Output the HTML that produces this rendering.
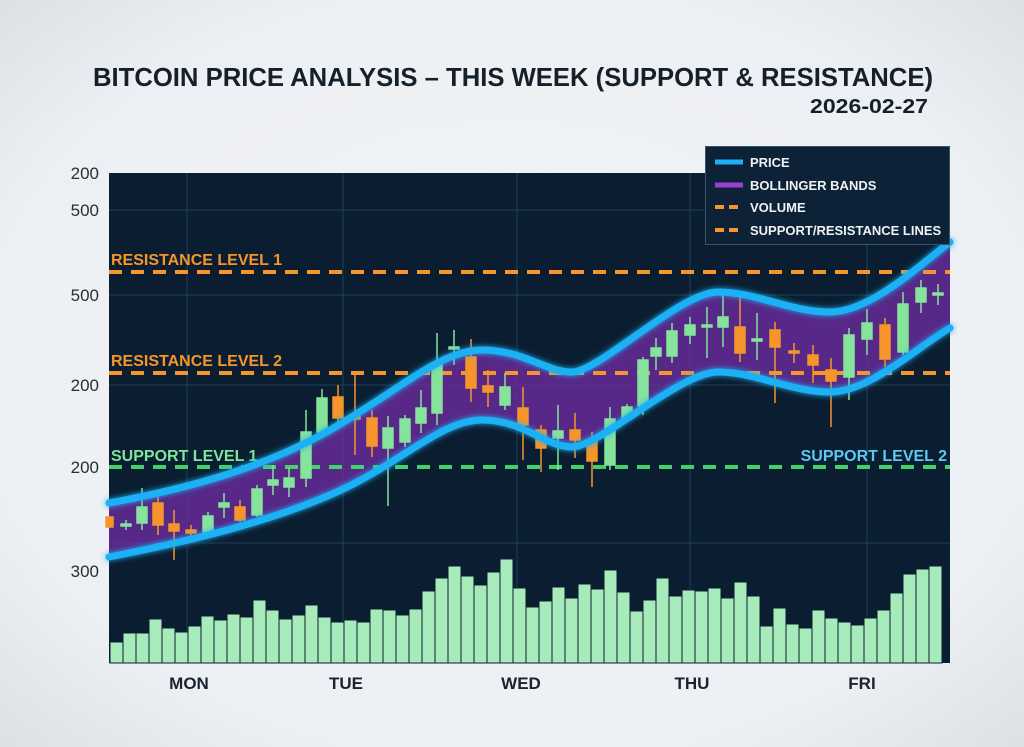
<!DOCTYPE html>
<html><head><meta charset="utf-8"><style>
html,body{margin:0;padding:0;background:#eef1f4;}
svg{display:block;}
text{font-family:"Liberation Sans",sans-serif;}
</style></head><body>
<svg width="1024" height="747" viewBox="0 0 1024 747" xmlns="http://www.w3.org/2000/svg">
<defs>
<radialGradient id="bg" cx="50%" cy="50%" r="75%">
<stop offset="0" stop-color="#f3f5f8"/><stop offset="0.7" stop-color="#eceff3"/><stop offset="1" stop-color="#d9dde2"/>
</radialGradient>
<filter id="glow" x="-10%" y="-20%" width="120%" height="140%"><feGaussianBlur stdDeviation="3" result="b"/><feMerge><feMergeNode in="b"/><feMergeNode in="SourceGraphic"/></feMerge></filter>
</defs>
<rect width="1024" height="747" fill="url(#bg)"/>
<text x="93" y="86" font-size="26" font-weight="bold" fill="#15202b" textLength="840" lengthAdjust="spacingAndGlyphs">BITCOIN PRICE ANALYSIS – THIS WEEK (SUPPORT &amp; RESISTANCE)</text>
<text x="810" y="113" font-size="20" font-weight="bold" fill="#15202b" textLength="118" lengthAdjust="spacingAndGlyphs">2026-02-27</text>

<rect x="109" y="173" width="841" height="490" fill="#0b1e31"/>
<g stroke="#1f3f55" stroke-width="1">
<line x1="187" y1="173" x2="187" y2="663"/><line x1="343" y1="173" x2="343" y2="663"/><line x1="517" y1="173" x2="517" y2="663"/><line x1="690" y1="173" x2="690" y2="663"/><line x1="867" y1="173" x2="867" y2="663"/>
<line x1="109" y1="210" x2="950" y2="210"/><line x1="109" y1="295" x2="950" y2="295"/><line x1="109" y1="385" x2="950" y2="385"/><line x1="109" y1="543" x2="950" y2="543"/>
</g>

<g font-size="17" fill="#2a2f36" text-anchor="end">
<text x="99" y="179">200</text><text x="99" y="216">500</text><text x="99" y="301">500</text><text x="99" y="391">200</text><text x="99" y="473">200</text><text x="99" y="577">300</text>
</g>

<!-- volume -->
<g fill="#a8ebba" stroke="#0b1e31" stroke-width="1">
<rect x="110" y="642" width="13" height="21"/><rect x="123" y="633" width="13" height="30"/><rect x="136" y="633" width="13" height="30"/><rect x="149" y="619" width="13" height="44"/><rect x="162" y="628" width="13" height="35"/><rect x="175" y="632" width="13" height="31"/><rect x="188" y="626" width="13" height="37"/><rect x="201" y="616" width="13" height="47"/><rect x="214" y="620" width="13" height="43"/><rect x="227" y="614" width="13" height="49"/><rect x="240" y="617" width="13" height="46"/><rect x="253" y="600" width="13" height="63"/><rect x="266" y="610" width="13" height="53"/><rect x="279" y="619" width="13" height="44"/><rect x="292" y="615" width="13" height="48"/><rect x="305" y="605" width="13" height="58"/><rect x="318" y="617" width="13" height="46"/><rect x="331" y="622" width="13" height="41"/><rect x="344" y="620" width="13" height="43"/><rect x="357" y="622" width="13" height="41"/><rect x="370" y="609" width="13" height="54"/><rect x="383" y="610" width="13" height="53"/><rect x="396" y="615" width="13" height="48"/><rect x="409" y="609" width="13" height="54"/><rect x="422" y="591" width="13" height="72"/><rect x="435" y="578" width="13" height="85"/><rect x="448" y="566" width="13" height="97"/><rect x="461" y="576" width="13" height="87"/><rect x="474" y="585" width="13" height="78"/><rect x="487" y="572" width="13" height="91"/><rect x="500" y="559" width="13" height="104"/><rect x="513" y="588" width="13" height="75"/>
<rect x="526" y="607" width="13" height="56"/><rect x="539" y="601" width="13" height="62"/><rect x="552" y="587" width="13" height="76"/><rect x="565" y="598" width="13" height="65"/><rect x="578" y="584" width="13" height="79"/><rect x="591" y="589" width="13" height="74"/><rect x="604" y="570" width="13" height="93"/><rect x="617" y="592" width="13" height="71"/><rect x="630" y="611" width="13" height="52"/><rect x="643" y="600" width="13" height="63"/><rect x="656" y="578" width="13" height="85"/><rect x="669" y="596" width="13" height="67"/><rect x="682" y="590" width="13" height="73"/><rect x="695" y="591" width="13" height="72"/><rect x="708" y="588" width="13" height="75"/><rect x="721" y="598" width="13" height="65"/><rect x="734" y="582" width="13" height="81"/><rect x="747" y="596" width="13" height="67"/><rect x="760" y="626" width="13" height="37"/><rect x="773" y="608" width="13" height="55"/><rect x="786" y="624" width="13" height="39"/><rect x="799" y="628" width="13" height="35"/><rect x="812" y="610" width="13" height="53"/><rect x="825" y="618" width="13" height="45"/><rect x="838" y="622" width="13" height="41"/><rect x="851" y="625" width="13" height="38"/><rect x="864" y="618" width="13" height="45"/><rect x="877" y="610" width="13" height="53"/><rect x="890" y="593" width="13" height="70"/><rect x="903" y="574" width="13" height="89"/><rect x="916" y="569" width="13" height="94"/><rect x="929" y="566" width="13" height="97"/>
</g>

<!-- bands fill -->
<path d="M109,503 C180,490 260,470 330,430 C400,390 440,350 482,350 C524,350 545,372 572,372 C599,372 680,292 718,292 C756,292 790,312 830,312 C870,312 920,265 950,242 L950,328 C920,345 870,392 830,392 C790,392 756,372 718,372 C680,372 599,447 572,447 C545,447 524,420 482,420 C440,420 400,465 330,495 C260,525 180,543 109,557 Z" fill="#6a2a9e" fill-opacity="0.8"/>

<!-- S/R lines -->
<g stroke-width="4" stroke-dasharray="13,9" fill="none">
<line x1="109" y1="272" x2="950" y2="272" stroke="#f5952c"/>
<line x1="109" y1="373" x2="950" y2="373" stroke="#f5952c"/>
<line x1="109" y1="467" x2="950" y2="467" stroke="#3ed46a"/>
</g>
<g font-size="16" font-weight="bold">
<text x="111" y="265" fill="#f5952c">RESISTANCE LEVEL 1</text>
<text x="111" y="366" fill="#f5952c">RESISTANCE LEVEL 2</text>
<text x="111" y="461" fill="#7de69a">SUPPORT LEVEL 1</text>
<text x="947" y="461" fill="#5cc8f0" text-anchor="end">SUPPORT LEVEL 2</text>
</g>

<!-- candles -->
<g stroke-width="1.5">
<g stroke="#f5952c" fill="#f5952c">
<rect x="106" y="517" width="7" height="10"/>
<line x1="158" y1="492" x2="158" y2="535"/><rect x="153" y="503" width="10" height="22"/>
<line x1="174" y1="510" x2="174" y2="560"/><rect x="169" y="524" width="10" height="7"/>
<line x1="191" y1="525" x2="191" y2="540"/><rect x="186" y="530" width="10" height="3"/>
<line x1="240" y1="500" x2="240" y2="522"/><rect x="235" y="507" width="10" height="13"/>
<line x1="338" y1="385" x2="338" y2="423"/><rect x="333" y="397" width="10" height="21"/>
<line x1="355" y1="373" x2="355" y2="455"/><rect x="350" y="417" width="10" height="2"/>
<line x1="372" y1="410" x2="372" y2="457"/><rect x="367" y="418" width="10" height="28"/>
<line x1="471" y1="339" x2="471" y2="402"/><rect x="466" y="357" width="10" height="31"/>
<line x1="488" y1="370" x2="488" y2="407"/><rect x="483" y="386" width="10" height="6"/>
<line x1="523" y1="387" x2="523" y2="460"/><rect x="518" y="408" width="10" height="17"/>
<line x1="541" y1="425" x2="541" y2="472"/><rect x="536" y="430" width="10" height="18"/>
<line x1="575" y1="413" x2="575" y2="458"/><rect x="570" y="430" width="10" height="10"/>
<line x1="592" y1="432" x2="592" y2="487"/><rect x="587" y="440" width="10" height="21"/>
<line x1="740" y1="295" x2="740" y2="362"/><rect x="735" y="327" width="10" height="26"/>
<line x1="775" y1="322" x2="775" y2="403"/><rect x="770" y="330" width="10" height="17"/>
<line x1="794" y1="343" x2="794" y2="363"/><rect x="789" y="351" width="10" height="2"/>
<line x1="813" y1="345" x2="813" y2="383"/><rect x="808" y="355" width="10" height="10"/>
<line x1="831" y1="358" x2="831" y2="427"/><rect x="826" y="370" width="10" height="11"/>
<line x1="885" y1="318" x2="885" y2="367"/><rect x="880" y="325" width="10" height="34"/>
</g>
<g stroke="#86e39b" fill="#86e39b">
<line x1="126" y1="520" x2="126" y2="530"/><rect x="121" y="524" width="10" height="2"/>
<line x1="142" y1="488" x2="142" y2="530"/><rect x="137" y="507" width="10" height="16"/>
<line x1="208" y1="512" x2="208" y2="537"/><rect x="203" y="516" width="10" height="16"/>
<line x1="224" y1="493" x2="224" y2="518"/><rect x="219" y="503" width="10" height="4"/>
<line x1="257" y1="485" x2="257" y2="517"/><rect x="252" y="489" width="10" height="26"/>
<line x1="273" y1="465" x2="273" y2="495"/><rect x="268" y="480" width="10" height="5"/>
<line x1="289" y1="468" x2="289" y2="497"/><rect x="284" y="478" width="10" height="9"/>
<line x1="306" y1="410" x2="306" y2="487"/><rect x="301" y="432" width="10" height="46"/>
<line x1="322" y1="389" x2="322" y2="438"/><rect x="317" y="398" width="10" height="34"/>
<line x1="388" y1="416" x2="388" y2="506"/><rect x="383" y="428" width="10" height="20"/>
<line x1="405" y1="415" x2="405" y2="447"/><rect x="400" y="419" width="10" height="23"/>
<line x1="421" y1="390" x2="421" y2="433"/><rect x="416" y="408" width="10" height="15"/>
<line x1="437" y1="333" x2="437" y2="425"/><rect x="432" y="363" width="10" height="50"/>
<line x1="454" y1="330" x2="454" y2="365"/><rect x="449" y="347" width="10" height="2"/>
<line x1="505" y1="373" x2="505" y2="410"/><rect x="500" y="387" width="10" height="18"/>
<line x1="558" y1="405" x2="558" y2="470"/><rect x="553" y="431" width="10" height="7"/>
<line x1="610" y1="407" x2="610" y2="470"/><rect x="605" y="419" width="10" height="46"/>
<line x1="627" y1="404" x2="627" y2="420"/><rect x="622" y="407" width="10" height="11"/>
<line x1="643" y1="357" x2="643" y2="415"/><rect x="638" y="360" width="10" height="46"/>
<line x1="656" y1="338" x2="656" y2="370"/><rect x="651" y="348" width="10" height="8"/>
<line x1="672" y1="323" x2="672" y2="363"/><rect x="667" y="331" width="10" height="25"/>
<line x1="690" y1="317" x2="690" y2="344"/><rect x="685" y="325" width="10" height="10"/>
<line x1="707" y1="307" x2="707" y2="358"/><rect x="702" y="325" width="10" height="2"/>
<line x1="723" y1="295" x2="723" y2="347"/><rect x="718" y="317" width="10" height="10"/>
<line x1="757" y1="313" x2="757" y2="360"/><rect x="752" y="339" width="10" height="2"/>
<line x1="849" y1="328" x2="849" y2="400"/><rect x="844" y="335" width="10" height="42"/>
<line x1="867" y1="309" x2="867" y2="355"/><rect x="862" y="323" width="10" height="16"/>
<line x1="903" y1="292" x2="903" y2="355"/><rect x="898" y="304" width="10" height="48"/>
<line x1="921" y1="280" x2="921" y2="313"/><rect x="916" y="288" width="10" height="14"/>
<line x1="938" y1="284" x2="938" y2="305"/><rect x="933" y="293" width="10" height="2"/>
</g>
</g>

<!-- band lines -->
<g fill="none" stroke="#1cb0f5" stroke-width="7" stroke-linecap="round" filter="url(#glow)">
<path d="M109,503 C180,490 260,470 330,430 C400,390 440,350 482,350 C524,350 545,372 572,372 C599,372 680,292 718,292 C756,292 790,312 830,312 C870,312 920,265 950,242"/>
<path d="M109,557 C180,543 260,525 330,495 C400,465 440,420 482,420 C524,420 545,447 572,447 C599,447 680,372 718,372 C756,372 790,392 830,392 C870,392 920,345 950,328"/>
</g>

<!-- legend -->
<rect x="705.5" y="146.5" width="244" height="98" fill="#0d2236" stroke="#3a5468" stroke-width="1"/>
<line x1="715" y1="162" x2="743" y2="162" stroke="#1cb0f5" stroke-width="5"/>
<line x1="715" y1="185" x2="743" y2="185" stroke="#9b3fd0" stroke-width="5"/>
<line x1="715" y1="207" x2="743" y2="207" stroke="#f5952c" stroke-width="4" stroke-dasharray="9,5"/>
<line x1="715" y1="230" x2="743" y2="230" stroke="#f5952c" stroke-width="4" stroke-dasharray="9,5"/>
<g font-size="13" font-weight="bold" fill="#eef2f6">
<text x="750" y="167">PRICE</text>
<text x="750" y="190">BOLLINGER BANDS</text>
<text x="750" y="212">VOLUME</text>
<text x="750" y="235">SUPPORT/RESISTANCE LINES</text>
</g>

<g font-size="17" font-weight="bold" fill="#1a2330" text-anchor="middle">
<text x="189" y="689">MON</text><text x="346" y="689">TUE</text><text x="521" y="689">WED</text><text x="692" y="689">THU</text><text x="862" y="689">FRI</text>
</g>
</svg>
</body></html>
